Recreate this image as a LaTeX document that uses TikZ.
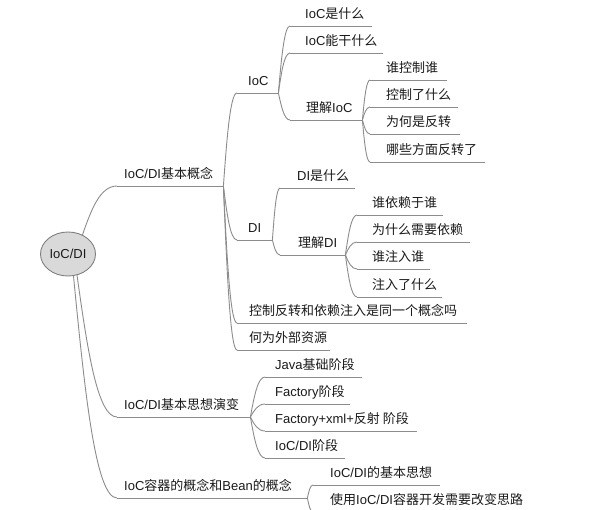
\documentclass[tikz,border=0pt]{standalone}
\usepackage{fontspec}
\setmainfont{Liberation Sans}
\newfontfamily\zhfont{Noto Sans CJK SC}
\newcommand\zh[1]{{\zhfont #1}}
\usetikzlibrary{calc,shapes.geometric}
\definecolor{linegray}{HTML}{8C8C8C}
\definecolor{rootfill}{HTML}{D9D9D9}
\definecolor{rootline}{HTML}{808080}
\definecolor{textcol}{HTML}{1A1A1A}
\newcommand\mmlink[2]{\draw[link] let \p1=(#1), \p2=(#2) in (\p1) .. controls ({\x1+0.25*(\x2-\x1)},{\y1+0.5*(\y2-\y1)}) and ({0.5*(\x1+\x2)},{\y2}) .. (\p2);}
\newcommand\topic[6]{%
  \pgfmathsetmacro\tpw{#4-#2}\pgfmathsetmacro\tpp{#3-#2}%
  \node[topic] (#1) at (#2,#5) {\makebox[\tpw pt][l]{\hspace*{\tpp pt}#6}};}
\begin{document}
\begin{tikzpicture}[x=1pt,y=-1pt,
  link/.style={draw=linegray, line width=0.9pt},
  topic/.style={anchor=south west, inner xsep=0pt, inner ysep=7.5pt, text height=10pt, text depth=0pt, font=\fontsize{13}{15}\selectfont, text=textcol},
  rootnode/.style={ellipse, draw=rootline, fill=rootfill, line width=0.9pt, minimum width=55pt, minimum height=44pt, inner sep=0pt, font=\fontsize{13}{15}\selectfont, text=textcol}]
\useasboundingbox (0,0) rectangle (610,509);
\fill[white] (0,0) rectangle (610,509);

\node[rootnode] (root) at (68,254) {IoC/DI};

\topic{a}{117}{124}{223}{186}{IoC/DI\zh{基本概念}}
\topic{b}{117}{124}{250}{417}{IoC/DI\zh{基本思想演变}}
\topic{c}{117}{124}{307}{498}{IoC\zh{容器的概念和}Bean\zh{的概念}}

\topic{ioc}{237}{248}{278}{93}{IoC}
\topic{di}{237}{248}{272}{240}{DI}
\topic{same}{237}{249}{467}{323}{\zh{控制反转和依赖注入是同一个概念吗}}
\topic{ext}{237}{249}{330}{350}{\zh{何为外部资源}}

\topic{iocwhat}{290}{305}{372}{26}{IoC\zh{是什么}}
\topic{iocdo}{290}{305}{383}{53}{IoC\zh{能干什么}}
\topic{iocund}{290}{306}{362}{120}{\zh{理解}IoC}
\topic{q1}{370}{386}{447}{80}{\zh{谁控制谁}}
\topic{q2}{370}{386}{458}{107}{\zh{控制了什么}}
\topic{q3}{370}{386}{460}{134}{\zh{为何是反转}}
\topic{q4}{370}{386}{485}{162}{\zh{哪些方面反转了}}

\topic{diwhat}{280}{297}{355}{188}{DI\zh{是什么}}
\topic{diund}{280}{298}{345}{255}{\zh{理解}DI}
\topic{r1}{357}{372}{443}{215}{\zh{谁依赖于谁}}
\topic{r2}{357}{372}{470}{242}{\zh{为什么需要依赖}}
\topic{r3}{357}{372}{430}{269}{\zh{谁注入谁}}
\topic{r4}{357}{372}{442}{297}{\zh{注入了什么}}

\topic{s1}{265}{275}{362}{377}{Java\zh{基础阶段}}
\topic{s2}{265}{275}{350}{404}{Factory\zh{阶段}}
\topic{s3}{265}{275}{417}{431}{Factory+xml+\zh{反射 阶段}}
\topic{s4}{265}{275}{345}{458}{IoC/DI\zh{阶段}}

\topic{t1}{313}{330}{440}{485}{IoC/DI\zh{的基本思想}}
\topic{t2}{313}{330}{535}{512}{\zh{使用}IoC/DI\zh{容器开发需要改变思路}}

\foreach \k in {a,b,c,ioc,di,same,ext,iocwhat,iocdo,iocund,q1,q2,q3,q4,diwhat,diund,r1,r2,r3,r4,s1,s2,s3,s4,t1,t2}
  {\draw[link] (\k.south west) -- (\k.south east);}

\mmlink{root.53}{a.south west}
\mmlink{root.-67}{b.south west}
\mmlink{root.-76}{c.south west}
\foreach \k in {ioc,di,same,ext} {\mmlink{a.south east}{\k.south west}}
\foreach \k in {iocwhat,iocdo,iocund} {\mmlink{ioc.south east}{\k.south west}}
\foreach \k in {q1,q2,q3,q4} {\mmlink{iocund.south east}{\k.south west}}
\foreach \k in {diwhat,diund} {\mmlink{di.south east}{\k.south west}}
\foreach \k in {r1,r2,r3,r4} {\mmlink{diund.south east}{\k.south west}}
\foreach \k in {s1,s2,s3,s4} {\mmlink{b.south east}{\k.south west}}
\foreach \k in {t1,t2} {\mmlink{c.south east}{\k.south west}}
\end{tikzpicture}
\end{document}
